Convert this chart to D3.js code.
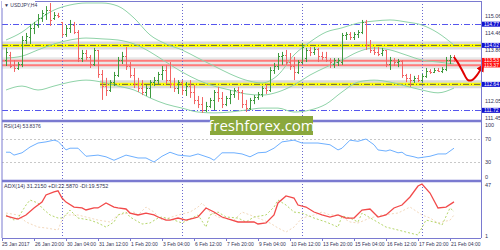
<!DOCTYPE html>
<html>
<head>
<meta charset="utf-8">
<title>USDJPY,H4</title>
<style>
  body { margin: 0; background: #fff; }
  svg { display: block; font-family: "Liberation Sans", Arial, sans-serif; }
  .lbl { font-size: 5.5px; fill: #333355; }
  .tag { font-size: 5px; fill: #fff; }
</style>
<script src="https://d3js.org/d3.v7.min.js"></script>
</head>
<body>
<script>
// H4 bars, 25 Jan 2017 16:00 .. 21 Feb 2017 08:00
var open  = [113.50,113.68,113.33,113.22,113.36,114.21,114.32,114.64,114.74,114.99,115.13,115.27,114.99,115.10,114.85,114.42,114.64,114.74,114.49,113.57,
             113.75,113.61,113.36,113.86,113.01,112.58,112.44,112.72,112.97,113.50,113.64,113.29,112.97,112.65,112.51,112.37,112.51,112.72,112.79,113.01,
             113.15,112.79,112.65,112.51,112.72,112.44,112.58,112.37,112.09,111.94,111.73,111.87,112.09,112.37,112.16,111.94,112.16,112.30,112.44,112.37,
             111.94,111.80,112.09,112.19,112.30,112.51,112.44,113.15,113.29,113.64,113.68,113.43,113.29,113.08,113.43,113.57,113.86,113.79,113.89,113.64,
             113.61,113.50,113.36,113.43,113.43,114.39,114.42,114.32,114.42,114.49,114.85,114.03,113.86,113.79,113.75,113.86,113.36,113.50,113.43,113.47,
             112.97,112.87,112.79,112.87,112.79,112.94,113.11,113.08,113.15,113.11,113.18,113.50,113.61];
var high  = [113.93,113.79,113.50,113.43,114.35,114.46,114.78,114.85,115.13,115.27,115.41,115.52,115.20,115.17,114.85,114.74,114.92,114.85,114.56,113.86,
             113.86,113.68,113.93,113.86,113.15,112.87,112.79,113.08,113.61,113.79,113.96,113.43,113.22,112.87,112.79,112.62,112.79,112.90,113.08,113.29,
             113.33,113.43,112.87,112.79,112.79,112.72,112.79,112.62,112.23,112.19,112.02,112.16,112.44,112.55,112.37,112.23,112.44,112.51,112.55,112.44,
             112.09,112.16,112.26,112.37,112.58,112.65,113.25,113.40,113.75,113.79,113.86,113.75,113.61,113.50,114.10,113.93,113.96,113.96,113.93,113.79,
             113.79,113.57,113.57,113.57,114.46,114.49,114.49,114.49,114.56,114.92,114.92,114.21,113.96,113.96,113.93,113.86,113.61,113.57,113.54,113.50,
             113.01,113.01,112.94,112.97,113.01,113.22,113.18,113.22,113.22,113.25,113.61,113.68,113.68];
var low   = [113.29,113.22,113.08,113.15,113.25,114.07,114.07,114.42,114.64,114.85,114.92,114.71,114.92,114.99,114.32,114.32,114.46,114.42,113.43,113.43,
             113.50,113.22,113.29,112.87,112.09,112.23,112.37,112.58,112.90,113.36,113.15,112.87,112.51,112.37,112.26,112.23,112.16,112.58,112.65,112.79,
             112.65,112.51,112.37,112.30,112.26,112.23,112.16,111.94,111.80,111.63,111.66,111.80,111.73,112.02,111.80,111.87,111.94,112.16,112.09,111.80,
             111.66,111.73,111.94,112.09,112.19,112.30,112.37,113.01,113.15,113.33,113.33,113.15,112.79,113.01,113.36,113.43,113.64,113.68,113.43,113.50,
             113.43,113.22,113.22,113.29,113.33,114.21,114.21,114.21,114.28,114.42,113.86,113.75,113.68,113.64,113.64,113.25,113.15,113.29,113.25,112.87,
             112.72,112.55,112.69,112.72,112.72,112.87,113.01,113.04,113.08,113.04,113.11,113.36,113.43];
var close = [113.79,113.29,113.22,113.36,114.21,114.35,114.64,114.78,114.99,115.17,115.27,114.92,115.10,115.06,114.42,114.64,114.78,114.49,113.57,113.75,
             113.61,113.36,113.86,113.01,112.58,112.44,112.72,112.97,113.50,113.64,113.29,112.97,112.65,112.51,112.37,112.51,112.72,112.79,113.01,113.15,
             112.79,112.65,112.51,112.72,112.44,112.58,112.37,112.09,111.94,111.73,111.87,112.09,112.37,112.16,111.94,112.16,112.30,112.44,112.37,111.94,
             111.80,112.09,112.19,112.30,112.51,112.44,113.15,113.29,113.64,113.68,113.43,113.29,113.08,113.43,113.96,113.86,113.79,113.89,113.64,113.61,
             113.50,113.43,113.50,113.50,114.39,114.42,114.32,114.42,114.49,114.85,114.03,113.86,113.79,113.72,113.86,113.36,113.50,113.43,113.47,112.97,
             112.87,112.79,112.87,112.79,112.94,113.11,113.08,113.15,113.11,113.18,113.50,113.61,113.50];

// Bollinger bands read every 4 bars
var bbBars   = [0,4,8,12,16,20,24,28,32,36,40,44,48,52,56,60,64,68,72,76,80,84,88,92,96,100,104,108,112];
var bbUpper  = [114.21,114.49,114.92,115.27,115.45,115.52,115.52,115.41,114.99,114.39,114.07,113.86,113.57,113.29,113.01,112.79,112.69,112.97,113.68,114.14,114.49,114.64,114.81,114.88,114.92,114.85,114.74,114.46,114.03];
var bbMiddle = [113.57,113.64,113.86,114.07,114.21,114.28,114.25,114.21,114.07,113.79,113.43,113.08,112.79,112.58,112.44,112.30,112.26,112.37,112.62,112.97,113.25,113.50,113.79,113.93,113.86,113.68,113.50,113.43,113.36];
var bbLower  = [112.44,112.58,112.44,112.58,112.72,112.79,112.72,112.58,112.44,112.16,111.94,111.80,111.66,111.63,111.66,111.73,111.80,111.80,111.66,111.73,111.94,112.37,112.72,112.79,112.72,112.58,112.44,112.34,112.51];

// RSI(14)
var rsiBars   = [0,1,2,3,4,6,8,10,12,13,15,16,18,20,23,25,27,30,33,35,37,39,41,43,46,48,51,52,54,57,59,61,63,65,67,69,72,74,78,81,83,84,86,88,90,92,93,95,96,98,99,100,102,103,106,108,110,112];
var rsiValues = [47,47,42,44,46,56,63,65,68,66,51,54,54,40,42,39,33,42,37,37,30,40,47,42,40,44,37,33,46,46,44,39,46,47,54,65,68,63,63,60,51,54,68,66,70,60,51,49,51,46,47,42,39,37,40,44,44,54];

// ADX(14), +DI, -DI
var adxBars   = [0,2,3,5,7,9,10,12,13,14,15,17,19,20,22,23,25,27,28,30,31,33,35,37,38,40,41,43,45,47,48,50,52,54,58,60,62,63,65,67,68,70,72,73,75,77,79,81,83,85,87,89,91,93,95,97,99,101,103,104,106,108,110,112];
var adxValues = [18.7,16.9,16.0,19.6,25.8,31.0,37.3,40.0,41.0,34.6,31.0,26.6,25.8,24.0,25.8,25.8,30.2,26.6,25.8,24.9,21.3,19.6,21.3,19.6,17.8,15.1,15.1,16.9,15.1,16.9,17.8,25.8,22.2,17.8,13.4,13.4,13.4,11.6,12.5,19.6,30.2,36.4,34.6,28.4,26.6,22.2,19.6,17.8,19.6,16.9,16.9,24.0,24.9,17.8,19.6,25.8,28.4,35.5,45.2,47.0,39.0,25.8,26.6,31.2];
var pdiBars   = [0,2,3,5,6,8,9,11,13,14,15,16,18,21,23,25,27,28,30,31,34,36,38,39,42,44,47,48,50,51,53,55,58,60,62,65,67,68,70,72,74,77,80,83,84,86,88,89,92,95,98,101,103,105,108,109,111,112];
var pdiValues = [19.6,15.1,16.9,28.4,32.8,30.2,25.8,19.6,16.9,16.9,19.6,24.0,16.9,15.1,12.5,8.9,13.4,19.6,22.2,17.8,11.6,12.5,16.9,17.8,15.1,12.5,17.8,19.6,8.9,19.6,22.2,17.8,16.9,13.4,17.8,19.6,26.6,32.8,28.4,22.2,21.3,16.9,13.4,8.9,18.7,16.9,13.4,21.3,15.1,8.9,6.3,3.6,1.9,15.1,12.5,10.7,25.8,22.6];
var mdiBars   = [0,3,5,8,10,13,14,15,18,20,23,26,28,32,33,35,37,39,43,46,48,49,51,53,57,59,61,63,66,68,70,72,74,77,79,81,83,86,88,91,94,98,101,104,106,108,111,112];
var mdiValues = [21.3,19.6,13.4,8.9,8.1,6.3,15.1,19.6,19.6,17.8,15.1,13.4,19.6,22.2,19.6,26.6,22.2,15.1,19.6,22.2,26.6,30.2,22.2,17.8,15.1,22.2,19.6,16.9,12.5,8.1,4.5,8.9,16.9,19.6,22.2,19.6,19.6,13.4,12.5,16.9,19.6,21.3,26.6,19.6,16.9,12.5,15.0,19.6];

// chart objects
var blueLevels   = [114.77, 111.72];
var yellowLevels = [114.02, 112.64];
var yellowStart  = [-1, 23.5];
var redLevels    = [113.53, 113.37];
var forecastBars   = [112, 113, 114.25, 115.5, 116.5, 117.75, 119];
var forecastPrices = [113.61, 113.40, 113.08, 112.79, 112.79, 112.97, 113.25];

var priceTicks = [115.06, 114.46, 113.86, 112.05, 111.45];
var rsiTicks   = [100, 70, 30, 0];
var adxTicks   = [47, 1];
var timeBars   = [0,7,15,23,31,39,47,55,63,71,79,87,95,103,111];
var timeLabels = ["25 Jan 2017","26 Jan 20:00","30 Jan 04:00","31 Jan 12:00","1 Feb 20:00","3 Feb 04:00","6 Feb 12:00",
                  "7 Feb 20:00","9 Feb 04:00","10 Feb 12:00","13 Feb 20:00","15 Feb 04:00","16 Feb 12:00","17 Feb 20:00","21 Feb 04:00"];
var weekBars   = [14, 44, 74, 104];

var w = 500, h = 250;
var left = 2, right = 481;
var svg = d3.select("body").append("svg").attr("width", w).attr("height", h);

var x = d3.scaleLinear().domain([0, 112]).range([6, 454]);
var y = d3.scaleLinear().domain([111.343, 115.591]).range([121, 1]);
var yr = d3.scaleLinear().domain([0, 100]).range([179.25, 121.75]);
var ya = d3.scaleLinear().domain([1, 47]).range([236, 184]);

// level lines
function hline(g, yy, x0, color, width, dash) {
  g.append("line").attr("x1", x0).attr("x2", right).attr("y1", yy).attr("y2", yy)
   .attr("stroke", color).attr("stroke-width", width).attr("stroke-dasharray", dash || null);
}
var lv = svg.append("g");
redLevels.forEach(function (p) { hline(lv, y(p) + 1.5, left, "#e8e8e8", 7); });
redLevels.forEach(function (p) { hline(lv, y(p) + 1.5, left, "#ff7a7a", 2); });
yellowLevels.forEach(function (p, i) {
  var x0 = yellowStart[i] < 0 ? left : x(yellowStart[i]);
  hline(lv, y(p), x0, "#dadada", 8);
  hline(lv, y(p), x0, "#ffff00", 3);
  hline(lv, y(p), x0, "#666633", 1, "6,2,1,2");
});
blueLevels.forEach(function (p) { hline(lv, Math.round(y(p)) + 0.5, left, "#5555ee", 1, "6,2,1,2"); });

// period separators
svg.selectAll(".sep").data(weekBars).enter().append("line")
   .attr("x1", function (d) { return x(d) + 0.5; }).attr("x2", function (d) { return x(d) + 0.5; })
   .attr("y1", 1).attr("y2", 238).attr("stroke", "#6a6ad0").attr("stroke-dasharray", "1,2");

// bollinger bands
var bbLine = d3.line().x(function (d) { return x(d[0]); }).y(function (d) { return y(d[1]); }).curve(d3.curveMonotoneX);
[bbUpper, bbMiddle, bbLower].forEach(function (s) {
  svg.append("path").attr("d", bbLine(bbBars.map(function (b, i) { return [b, s[i]]; })))
     .attr("fill", "none").attr("stroke", "#8fd3a8").attr("stroke-width", 1);
});

// bars
var bars = svg.append("g").selectAll("g").data(d3.range(open.length)).enter().append("g")
   .attr("stroke", function (i) { return close[i] >= open[i] ? "#3f9a3f" : "#f26565"; })
   .attr("stroke-width", 1);
bars.append("line").attr("x1", function (i) { return x(i) + 0.5; }).attr("x2", function (i) { return x(i) + 0.5; })
    .attr("y1", function (i) { return y(high[i]); }).attr("y2", function (i) { return y(low[i]); });
bars.append("line").attr("x1", function (i) { return x(i) - 1; }).attr("x2", function (i) { return x(i) + 0.5; })
    .attr("y1", function (i) { return Math.round(y(open[i])) + 0.5; }).attr("y2", function (i) { return Math.round(y(open[i])) + 0.5; });
bars.append("line").attr("x1", function (i) { return x(i) + 0.5; }).attr("x2", function (i) { return x(i) + 2; })
    .attr("y1", function (i) { return Math.round(y(close[i])) + 0.5; }).attr("y2", function (i) { return Math.round(y(close[i])) + 0.5; });

// forecast arrow
svg.append("defs").append("marker").attr("id", "arr").attr("viewBox", "0 0 10 10").attr("refX", 5).attr("refY", 5)
   .attr("markerWidth", 4).attr("markerHeight", 4).attr("orient", "auto")
   .append("path").attr("d", "M0,0L10,5L0,10z").attr("fill", "#e00000");
svg.append("path")
   .attr("d", d3.line().x(function (d) { return x(d[0]); }).y(function (d) { return y(d[1]); }).curve(d3.curveCatmullRom)
     (forecastBars.map(function (b, i) { return [b, forecastPrices[i]]; })))
   .attr("fill", "none").attr("stroke", "#e00000").attr("stroke-width", 2).attr("marker-end", "url(#arr)");

// rsi
svg.selectAll(".rl").data([70, 30]).enter().append("line").attr("x1", left).attr("x2", right)
   .attr("y1", function (d) { return Math.round(yr(d)) + 0.5; }).attr("y2", function (d) { return Math.round(yr(d)) + 0.5; })
   .attr("stroke", "#c8c8c8").attr("stroke-dasharray", "2,2");
svg.append("path").attr("d", d3.line().x(function (d) { return x(d[0]); }).y(function (d) { return yr(d[1]); })
     (rsiBars.map(function (b, i) { return [b, rsiValues[i]]; })))
   .attr("fill", "none").attr("stroke", "#6eb0ff").attr("stroke-width", 1);

// adx
function adxPath(bs, vs, color, dash, wd) {
  svg.append("path").attr("d", d3.line().x(function (d) { return x(d[0]); }).y(function (d) { return ya(d[1]); })
       (bs.map(function (b, i) { return [b, vs[i]]; })))
     .attr("fill", "none").attr("stroke", color).attr("stroke-width", wd).attr("stroke-dasharray", dash);
}
adxPath(mdiBars, mdiValues, "#f3d9bd", "2,2", 1);
adxPath(pdiBars, pdiValues, "#b5d66a", "2,2", 1);
adxPath(adxBars, adxValues, "#f24a4a", null, 1.3);

// frame
svg.append("line").attr("x1", left).attr("x2", left).attr("y1", 1).attr("y2", 238).attr("stroke", "#7a7ad0");
svg.append("line").attr("x1", right + 0.5).attr("x2", right + 0.5).attr("y1", 1).attr("y2", 238).attr("stroke", "#7a7ad0");
svg.append("line").attr("x1", left).attr("x2", right).attr("y1", 1.5).attr("y2", 1.5).attr("stroke", "#7a7ad0");
svg.append("line").attr("x1", left).attr("x2", right).attr("y1", 238.5).attr("y2", 238.5).attr("stroke", "#7a7ad0");
[121, 181].forEach(function (yy) {
  svg.append("line").attr("x1", left).attr("x2", right).attr("y1", yy).attr("y2", yy).attr("stroke", "#7a7ad0").attr("stroke-width", 2.5);
});

// price axis
svg.selectAll(".pt").data(priceTicks).enter().append("text").attr("class", "lbl")
   .attr("x", 485).attr("y", function (d) { return y(d) + 2; }).text(function (d) { return d.toFixed(2); });
function tagBox(p, color, dy) {
  var yy = y(p) + dy;
  svg.append("rect").attr("x", 482).attr("y", yy - 2.5).attr("width", 18).attr("height", 5).attr("fill", color);
  svg.append("text").attr("class", "tag").attr("x", 484).attr("y", yy + 1.8).text(p.toFixed(2));
}
blueLevels.concat(yellowLevels).forEach(function (p) { tagBox(p, "#1010d0", 0); });
redLevels.forEach(function (p) { tagBox(p, "#ff1010", 1.2); });

// indicator scale labels stay inside their panel
svg.selectAll(".rt").data(rsiTicks).enter().append("text").attr("class", "lbl")
   .attr("x", 485).attr("y", function (d) { return Math.min(Math.max(yr(d), 125), 176.5) + 2; }).text(function (d) { return d; });
svg.selectAll(".at").data(adxTicks).enter().append("text").attr("class", "lbl")
   .attr("x", 485).attr("y", function (d) { return Math.max(ya(d), 185) + 2; }).text(function (d) { return d; });

// time axis
svg.selectAll(".tk").data(timeBars).enter().append("line")
   .attr("x1", function (d, i) { return i === 0 ? left + 0.5 : x(d) + 0.5; })
   .attr("x2", function (d, i) { return i === 0 ? left + 0.5 : x(d) + 0.5; })
   .attr("y1", 238).attr("y2", 241).attr("stroke", "#7a7ad0");
svg.selectAll(".tl").data(timeBars).enter().append("text").attr("class", "lbl").style("font-size", "5px")
   .attr("x", function (d, i) { return i === 0 ? left : x(d) + 1; }).attr("y", 246)
   .text(function (d, i) { return timeLabels[i]; });

// titles
svg.append("rect").attr("x", 2).attr("y", 0).attr("width", 33).attr("height", 8).attr("fill", "#fff");
svg.append("text").attr("class", "lbl").style("font-size", "5px").attr("x", 4).attr("y", 6.5).text("\u25BC USDJPY,H4");
svg.append("text").attr("class", "lbl").style("font-size", "5px").attr("x", 4).attr("y", 128).text("RSI(14) 53.8376");
svg.append("text").attr("class", "lbl").attr("x", 4).attr("y", 188).text("ADX(14) 31.2150 +DI:22.5870 -DI:19.5752");

// watermark
svg.append("rect").attr("x", 210).attr("y", 116).attr("width", 103).attr("height", 19).attr("fill", "#8aa83c");
svg.append("text").attr("x", 261.5).attr("y", 130.5).attr("text-anchor", "middle")
   .style("font-family", "'Open Sans', sans-serif").style("font-size", "15px").attr("fill", "#fff").text("freshforex.com");
</script>
</body>
</html>
